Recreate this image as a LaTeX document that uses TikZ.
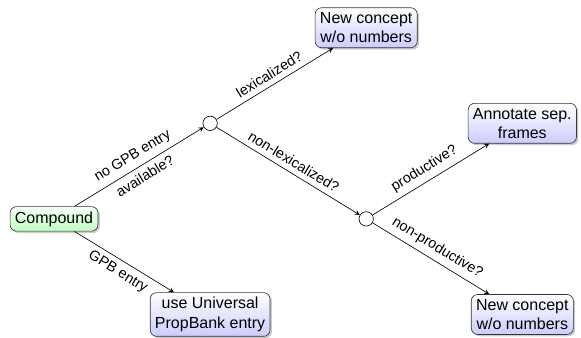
\documentclass[tikz,border=0pt]{standalone}
\usepackage{fontspec}
\setmainfont{Liberation Sans}
\usetikzlibrary{shadows}

\tikzset{
  leafbox/.style={draw=black!80, rounded corners=4pt, align=center, inner sep=3pt,
    top color=white, bottom color=blue!20,
    drop shadow={shadow xshift=1.2pt, shadow yshift=-1.2pt, opacity=0.4}},
  rootbox/.style={leafbox, top color=green!4, bottom color=green!25},
  choice/.style={draw, circle, fill=white, minimum size=9pt, inner sep=0pt},
  edge/.style={-stealth, thin},
  lab/.style={font=\small, sloped, midway}
}

\begin{document}
\begin{tikzpicture}
    \useasboundingbox (-1.187, -2.61) rectangle (11.58, 4.81);

    \node [rootbox] (compound) at (0, 0) {Compound};
    \node [choice] (gpb) at (3.43, 2.1) {};
    \node [choice] (lex) at (6.86, 0) {};

    \node [leafbox] (newtop) at (6.86, 4.2) {New concept\\w/o numbers};
    \node [leafbox] (annotate) at (10.29, 2.1) {Annotate sep.\\frames};
    \node [leafbox] (newbot) at (10.29, -2.1) {New concept\\w/o numbers};
    \node [leafbox] (upb) at (3.43, -2.1) {use Universal\\PropBank entry};

    \draw [edge] (compound) -- (gpb) node [lab, above] {no GPB entry} node [lab, below] {available?};
    \draw [edge] (compound) -- (upb) node [lab, below] {GPB entry};
    \draw [edge] (gpb) -- (newtop) node [lab, above] {lexicalized?};
    \draw [edge] (gpb) -- (lex) node [lab, above] {non-lexicalized?};
    \draw [edge] (lex) -- (annotate) node [lab, above] {productive?};
    \draw [edge] (lex) -- (newbot) node [lab, above] {non-productive?};
  \end{tikzpicture}
\end{document}
